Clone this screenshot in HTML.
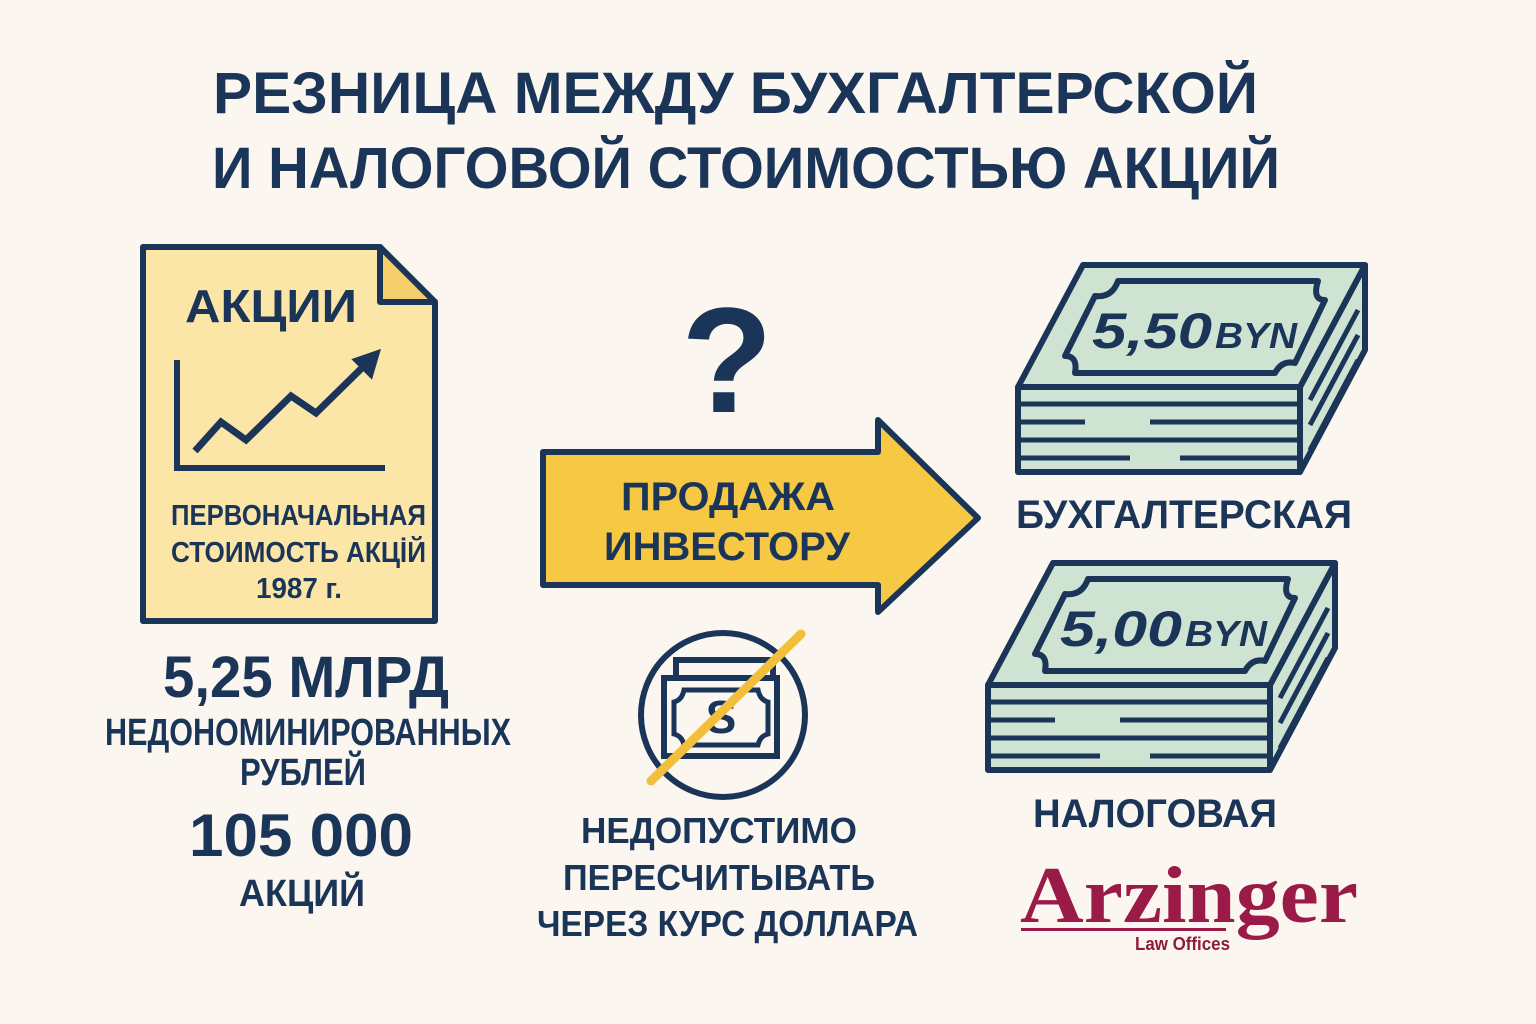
<!DOCTYPE html>
<html><head><meta charset="utf-8"><style>
html,body{margin:0;padding:0;background:#fbf7f0}
svg{display:block}
text{font-family:"Liberation Sans","DejaVu Sans",sans-serif;font-weight:bold;fill:#1b3558}
text.logo{font-family:"Liberation Serif",serif;fill:#9b1b48}
text.law{fill:#8e1b3e}
</style></head><body>
<svg width="1536" height="1024" viewBox="0 0 1536 1024" xmlns="http://www.w3.org/2000/svg">
<rect width="1536" height="1024" fill="#fbf7f0"/>
<!-- Title -->
<text x="213" y="113" font-size="58" textLength="1045" lengthAdjust="spacingAndGlyphs">РЕЗНИЦА МЕЖДУ БУХГАЛТЕРСКОЙ</text>
<text x="212" y="188" font-size="58" textLength="1068" lengthAdjust="spacingAndGlyphs">И НАЛОГОВОЙ СТОИМОСТЬЮ АКЦИЙ</text>

<!-- Document -->
<path d="M143,247 L380,247 L435,302 L435,621 L143,621 Z" fill="#fbe6a8" stroke="#1b3558" stroke-width="6" stroke-linejoin="round"/>
<path d="M380,247 L380,302 L435,302 Z" fill="#f5cf6e" stroke="#1b3558" stroke-width="6" stroke-linejoin="round"/>
<text x="185" y="322" font-size="46" textLength="172" lengthAdjust="spacingAndGlyphs">АКЦИИ</text>
<path d="M177,360 L177,468 L385,468" fill="none" stroke="#1b3558" stroke-width="6"/>
<path d="M195,451 L221,422 L246,440 L291,396 L316,413 L368,362" fill="none" stroke="#1b3558" stroke-width="7" stroke-linejoin="miter"/>
<path d="M378,352 L355,360 L371,376 Z" fill="#1b3558" stroke="#1b3558" stroke-width="4"/>
<text x="171" y="525" font-size="29" textLength="255" lengthAdjust="spacingAndGlyphs">ПЕРВОНАЧАЛЬНАЯ</text>
<text x="171" y="562" font-size="29" textLength="255" lengthAdjust="spacingAndGlyphs">СТОИМОСТЬ АКЦİЙ</text>
<text x="256" y="598" font-size="29" textLength="86" lengthAdjust="spacingAndGlyphs">1987 г.</text>

<!-- Left figures -->
<text x="163" y="697" font-size="58" textLength="286" lengthAdjust="spacingAndGlyphs">5,25 МЛРД</text>
<text x="105" y="745" font-size="38" textLength="406" lengthAdjust="spacingAndGlyphs">НЕДОНОМИНИРОВАННЫХ</text>
<text x="240" y="785" font-size="38" textLength="126" lengthAdjust="spacingAndGlyphs">РУБЛЕЙ</text>
<text x="189" y="856" font-size="60" textLength="224" lengthAdjust="spacingAndGlyphs">105 000</text>
<text x="239" y="906" font-size="38" textLength="126" lengthAdjust="spacingAndGlyphs">АКЦИЙ</text>

<!-- Question mark -->
<text x="727" y="412" font-size="150" text-anchor="middle">?</text>

<!-- Arrow -->
<path d="M543,452 L878,452 L878,420 L978,518 L878,612 L878,585 L543,585 Z" fill="#f6c844" stroke="#1b3558" stroke-width="6" stroke-linejoin="round"/>
<text x="621" y="510" font-size="40" textLength="214" lengthAdjust="spacingAndGlyphs">ПРОДАЖА</text>
<text x="604" y="560" font-size="40" textLength="246" lengthAdjust="spacingAndGlyphs">ИНВЕСТОРУ</text>

<!-- No dollar -->
<circle cx="723" cy="715" r="82" fill="none" stroke="#1b3558" stroke-width="6"/>
<path d="M676,681 L676,660 L773,660 L773,678" fill="none" stroke="#1b3558" stroke-width="6"/>
<rect x="664" y="678" width="113" height="78" fill="none" stroke="#1b3558" stroke-width="6"/>
<path d="M684,690 L758,690 Q760,700 768,702 L768,734 Q760,736 758,745 L684,745 Q682,736 674,734 L674,702 Q682,700 684,690 Z" fill="none" stroke="#1b3558" stroke-width="5"/>
<text x="721" y="733" font-size="46" text-anchor="middle">S</text>
<line x1="651" y1="781" x2="801" y2="634" stroke="#f3bf3a" stroke-width="9" stroke-linecap="round"/>
<text x="581" y="843" font-size="36" textLength="276" lengthAdjust="spacingAndGlyphs">НЕДОПУСТИМО</text>
<text x="563" y="890" font-size="36" textLength="312" lengthAdjust="spacingAndGlyphs">ПЕРЕСЧИТЫВАТЬ</text>
<text x="537" y="936" font-size="36" textLength="381" lengthAdjust="spacingAndGlyphs">ЧЕРЕЗ КУРС ДОЛЛАРА</text>

<!-- Money stack 1 -->
<g stroke="#1b3558" stroke-linejoin="round" fill="#cfe3d3">
<path d="M1300,387 L1365,265 L1365,350 L1300,472 Z" stroke-width="6"/>
<path d="M1310,400 L1358,310 M1310,425 L1358,335 M1310,450 L1358,360" stroke-width="5" fill="none"/>
<path d="M1083,265 L1365,265 L1300,387 L1018,387 Z" stroke-width="6"/>
<rect x="1018" y="387" width="282" height="85" stroke-width="6"/>
<path d="M1021,404 L1297,404 M1021,440 L1297,440 M1021,422 L1085,422 M1150,422 L1297,422 M1021,458 L1130,458 M1180,458 L1297,458" stroke-width="5" fill="none"/>
<path d="M1118,281 L1318,281 Q1312,300 1325,300 L1295,363 Q1282,360 1275,373 L1075,373 Q1078,356 1065,356 L1095,296 Q1112,298 1118,281 Z" stroke-width="6"/>
</g>
<text x="1092" y="348" font-size="50" font-style="italic" textLength="120" lengthAdjust="spacingAndGlyphs">5,50</text>
<text x="1215" y="348" font-size="36" font-style="italic" textLength="82" lengthAdjust="spacingAndGlyphs">BYN</text>
<text x="1016" y="528" font-size="40" textLength="336" lengthAdjust="spacingAndGlyphs">БУХГАЛТЕРСКАЯ</text>

<!-- Money stack 2 -->
<g stroke="#1b3558" stroke-linejoin="round" fill="#cfe3d3">
<path d="M1270,685 L1335,563 L1335,648 L1270,770 Z" stroke-width="6"/>
<path d="M1280,698 L1328,608 M1280,723 L1328,633 M1280,748 L1328,658" stroke-width="5" fill="none"/>
<path d="M1053,563 L1335,563 L1270,685 L988,685 Z" stroke-width="6"/>
<rect x="988" y="685" width="282" height="85" stroke-width="6"/>
<path d="M991,702 L1267,702 M991,738 L1267,738 M991,720 L1055,720 M1120,720 L1267,720 M991,756 L1100,756 M1150,756 L1267,756" stroke-width="5" fill="none"/>
<path d="M1088,579 L1288,579 Q1282,598 1295,598 L1265,661 Q1252,658 1245,671 L1045,671 Q1048,654 1035,654 L1065,594 Q1082,596 1088,579 Z" stroke-width="6"/>
</g>
<text x="1060" y="646" font-size="50" font-style="italic" textLength="122" lengthAdjust="spacingAndGlyphs">5,00</text>
<text x="1185" y="646" font-size="36" font-style="italic" textLength="82" lengthAdjust="spacingAndGlyphs">BYN</text>
<text x="1033" y="827" font-size="40" textLength="244" lengthAdjust="spacingAndGlyphs">НАЛОГОВАЯ</text>

<!-- Logo -->
<text class="logo" x="1020" y="922" font-size="80" textLength="338" lengthAdjust="spacingAndGlyphs">Arzinger</text>
<rect x="1021" y="928" width="205" height="3" fill="#9b1b48"/>
<text class="law" x="1135" y="950" font-size="18" textLength="95" lengthAdjust="spacingAndGlyphs">Law Offices</text>
</svg>
</body></html>
